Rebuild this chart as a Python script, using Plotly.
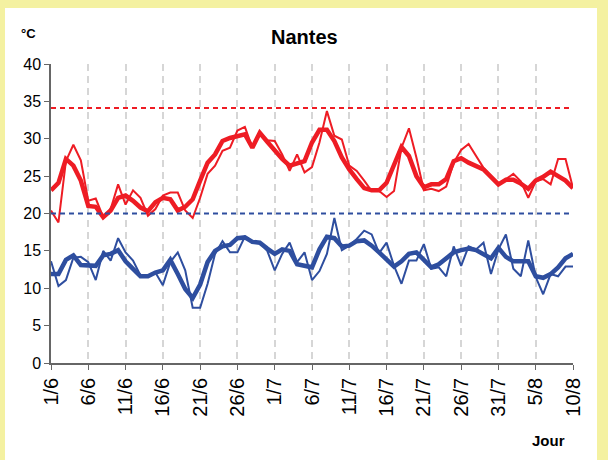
import pandas as pd
import plotly.graph_objects as go

# ---- data ----
dates = pd.date_range("2006-06-01", "2006-08-10", freq="D")
day_labels = [f"{d.day}/{d.month}" for d in dates]
day_index = list(range(len(day_labels)))

tmax_daily = [20.4, 18.8, 27.0, 29.2, 27.1, 21.7, 22.0, 19.5, 20.6, 23.9,
              21.2, 23.1, 22.1, 19.7, 20.6, 22.4, 22.8, 22.8, 20.4, 19.4,
              22.1, 25.3, 26.4, 28.4, 28.8, 31.1, 31.6, 28.8, 30.8, 29.8,
              29.7, 27.9, 25.7, 27.9, 25.5, 26.2, 29.5, 33.7, 30.4, 29.9,
              26.4, 25.7, 24.4, 23.0, 23.0, 22.2, 23.0, 28.8, 31.4, 27.5,
              23.1, 23.3, 23.0, 23.6, 26.8, 28.5, 29.3, 27.7, 26.1, 25.0,
              23.9, 24.6, 25.3, 24.3, 22.1, 24.3, 24.6, 23.9, 27.3, 27.3,
              23.4]
tmax_smooth = [23.1, 24.1, 27.3, 26.4, 24.4, 21.0, 20.9, 19.5, 20.4, 22.1,
               22.4, 21.7, 20.8, 20.3, 21.5, 22.1, 21.9, 20.4, 20.9, 21.9,
               24.4, 26.8, 27.9, 29.7, 30.1, 30.4, 30.6, 28.8, 30.8, 29.6,
               28.4, 27.3, 26.4, 26.7, 27.0, 29.5, 31.2, 31.2, 29.7, 27.5,
               25.9, 24.6, 23.4, 23.1, 23.1, 24.1, 26.4, 28.9, 27.7, 25.0,
               23.5, 23.9, 23.9, 24.6, 27.0, 27.4, 26.8, 26.4, 25.9, 24.9,
               23.9, 24.5, 24.5, 24.0, 23.3, 24.4, 24.9, 25.6, 25.0, 24.4,
               23.4]
tmin_daily = [13.6, 10.3, 11.1, 14.1, 14.2, 13.5, 11.1, 15.0, 13.7, 16.7,
              14.8, 13.7, 11.7, 11.6, 12.1, 10.4, 13.5, 14.8, 12.4, 7.4,
              7.4, 10.6, 14.6, 16.3, 14.8, 14.8, 16.9, 16.1, 16.1, 15.0,
              12.4, 14.6, 16.1, 13.5, 14.8, 11.1, 12.3, 14.6, 19.4, 15.1,
              15.7, 16.6, 17.7, 17.2, 14.7, 16.1, 13.0, 10.6, 13.7, 13.7,
              15.9, 12.6, 12.8, 11.6, 15.6, 13.0, 15.6, 15.2, 16.1, 11.9,
              15.2, 17.2, 12.6, 11.6, 16.4, 11.5, 9.2, 11.9, 11.6, 12.9,
              12.9]
tmin_smooth = [11.9, 11.9, 13.8, 14.4, 13.1, 13.0, 13.0, 14.4, 14.6, 15.1,
               13.6, 12.6, 11.6, 11.6, 12.1, 12.4, 13.8, 11.9, 9.9, 8.7,
               10.5, 13.5, 15.0, 15.6, 15.8, 16.7, 16.8, 16.2, 16.1, 15.3,
               14.6, 15.2, 15.0, 13.2, 13.0, 12.8, 15.2, 16.9, 16.7, 15.6,
               15.7, 16.3, 16.4, 15.7, 14.8, 13.9, 12.9, 13.6, 14.6, 14.8,
               13.7, 12.8, 13.2, 14.0, 14.8, 15.1, 15.3, 15.1, 14.5, 14.0,
               15.4, 14.2, 13.6, 13.6, 13.6, 11.6, 11.4, 11.9, 12.8, 14.0,
               14.6]
tmax_threshold = 34.1
tmin_threshold = 20.0
tick_step = 5
y_ticks = [0, 5, 10, 15, 20, 25, 30, 35, 40]

# ---- style ----
RED = "#ee1c24"
BLUE = "#2e4e9f"
FONT = "Arial, Liberation Sans, sans-serif"
W, H = 608, 460
L, R, T, B = 51, 35, 64, 97
pw, ph = W - L - R, H - T - B


def px(xp):
    return (xp - L) / pw


def py(yp):
    return (H - B - yp) / ph


fig = go.Figure()
fig.add_trace(go.Scatter(x=day_index, y=tmin_daily, mode="lines",
                         line=dict(color=BLUE, width=2), cliponaxis=False))
fig.add_trace(go.Scatter(x=day_index, y=tmin_smooth, mode="lines",
                         line=dict(color=BLUE, width=4.5), cliponaxis=False))
fig.add_trace(go.Scatter(x=day_index, y=tmax_daily, mode="lines",
                         line=dict(color=RED, width=2), cliponaxis=False))
fig.add_trace(go.Scatter(x=day_index, y=tmax_smooth, mode="lines",
                         line=dict(color=RED, width=4.5), cliponaxis=False))

shapes = [
    dict(type="rect", xref="paper", yref="paper", x0=px(5), x1=px(597),
         y0=py(8), y1=py(H + 5), fillcolor="white", line_width=0, layer="below"),
    dict(type="line", xref="x", yref="y", x0=day_index[0], x1=day_index[-1],
         y0=tmax_threshold, y1=tmax_threshold,
         line=dict(color=RED, width=2, dash="5px,4px")),
    dict(type="line", xref="x", yref="y", x0=day_index[0], x1=day_index[-1],
         y0=tmin_threshold, y1=tmin_threshold,
         line=dict(color=BLUE, width=2, dash="5px,4px")),
]

annotations = [
    dict(text="<b>Nantes</b>", x=px(304), y=py(37), xref="paper", yref="paper",
         showarrow=False, font=dict(family=FONT, size=20, color="black"),
         xanchor="center", yanchor="middle"),
    dict(text="<b>°C</b>", x=px(28), y=py(33), xref="paper", yref="paper",
         showarrow=False, font=dict(family=FONT, size=13, color="black"),
         xanchor="center", yanchor="middle"),
    dict(text="<b>Jour</b>", x=px(548), y=py(440), xref="paper", yref="paper",
         showarrow=False, font=dict(family=FONT, size=15, color="black"),
         xanchor="center", yanchor="middle"),
]

tickvals = day_index[::tick_step]
ticktext = day_labels[::tick_step]

fig.update_layout(
    width=W, height=H,
    margin=dict(l=L, r=R, t=T, b=B, pad=0),
    paper_bgcolor="#f4f1a1",
    plot_bgcolor="white",
    showlegend=False,
    hovermode=False,
    shapes=shapes,
    annotations=annotations,
    xaxis=dict(range=[day_index[0], day_index[-1]], tickvals=tickvals,
               ticktext=ticktext, tickangle=-90, ticks="outside", ticklen=5,
               tickcolor="#666666", showline=True, linecolor="#666666",
               linewidth=1.5, showgrid=True, gridcolor="#d6d6d6",
               gridwidth=2, griddash="7px,5px", zeroline=False,
               tickfont=dict(family=FONT, size=20, color="black")),
    yaxis=dict(range=[0, 40], tickvals=y_ticks, ticks="outside", ticklen=5,
               tickcolor="#666666", showline=True, linecolor="#666666",
               linewidth=1.5, showgrid=False, zeroline=False,
               tickfont=dict(family=FONT, size=16, color="black")),
)

fig.write_html("out.html",
               config={"displayModeBar": False},
               post_script="document.body.style.margin='0';"
                           "document.body.style.padding='0';"
                           "document.body.style.overflow='hidden';")
